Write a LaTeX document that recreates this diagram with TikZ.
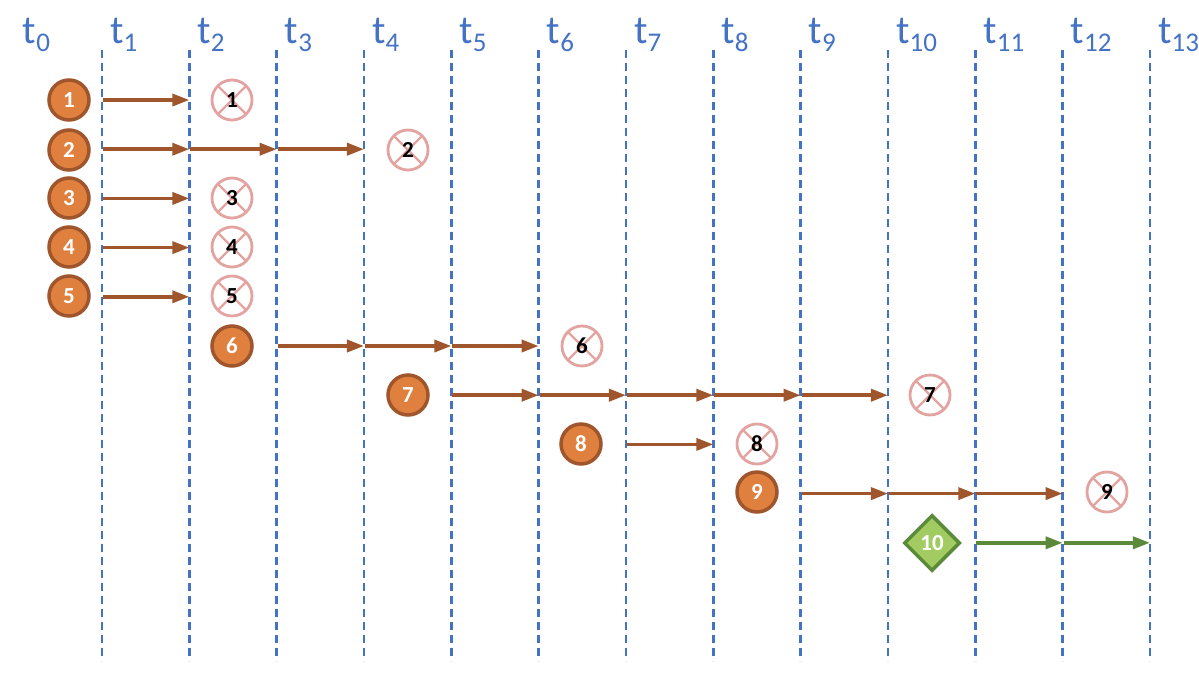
\documentclass[tikz,border=0pt]{standalone}
\usepackage{fontspec}
\setmainfont{Carlito}
\usetikzlibrary{arrows.meta,shapes.geometric}
\definecolor{tblue}{HTML}{4472C4}
\definecolor{ofill}{HTML}{E0803E}
\definecolor{oline}{HTML}{A0562C}
\definecolor{pinkx}{HTML}{E3A3A0}
\definecolor{gfill}{HTML}{A2CB62}
\definecolor{gline}{HTML}{5A8A3A}
\newcommand\tsubx[1]{\raisebox{-8.5pt}{\fontsize{27}{27}\selectfont #1}}
\begin{document}
\begin{tikzpicture}[x=1pt,y=-1pt,
  tline/.style={draw=tblue,line width=2.5pt,dash pattern=on 8pt off 5pt},
  tlabel/.style={text=tblue,font=\fontsize{40}{40}\selectfont,inner sep=0pt},
  alive/.style={circle,draw=oline,fill=ofill,line width=3.5pt,minimum size=40pt,inner sep=0pt,text=white,font=\fontsize{23}{23}\selectfont\bfseries},
  dead/.style={circle,draw=pinkx,line width=2.8pt,minimum size=40pt,inner sep=0pt,font=\fontsize{23}{23}\selectfont\bfseries,
    path picture={\draw[pinkx,line width=2.2pt] (path picture bounding box.north west) -- (path picture bounding box.south east) (path picture bounding box.north east) -- (path picture bounding box.south west);}},
  newd/.style={diamond,draw=gline,fill=gfill,line width=3.5pt,minimum size=56pt,inner sep=0pt,text=white,font=\fontsize{23}{23}\selectfont\bfseries},
  parr/.style={draw=oline,line width=3.5pt,-{Triangle[length=17pt,width=12pt]},shorten <=1pt},
  garr/.style={draw=gline,line width=3.5pt,-{Triangle[length=17pt,width=12pt]},shorten <=1pt}]
\useasboundingbox (0,0) rectangle (1199,675);
% time lines and labels
\foreach \i in {0,...,13}{
  \pgfmathsetmacro\xx{102+(\i-1)*87.33}
  \foreach \r in {1,...,10}{
    \pgfmathsetmacro\yy{100+(\r-1)*49.2}
    \coordinate (c-\r-\i) at (\xx,\yy);
  }
  \node[tlabel,anchor=base west] (l\i) at (\xx+8,43) {t\tsubx{\i}};
}
\foreach \i in {1,...,13}{
  \pgfmathsetmacro\xx{102+(\i-1)*87.33}
  \coordinate (top-\i) at (\xx,50);
  \coordinate (bot-\i) at (\xx,661);
  \draw[tline] (top-\i) -- (bot-\i);
}
% alive nodes
\node[alive] (a1) at (69,100) {1};
\node[alive] (a2) at (69,150) {2};
\node[alive] (a3) at (69,198) {3};
\node[alive] (a4) at (69,247) {4};
\node[alive] (a5) at (69,296) {5};
\node[alive] (a6) at (232,346) {6};
\node[alive] (a7) at (408,395) {7};
\node[alive] (a8) at (581,444) {8};
\node[alive] (a9) at (757,492) {9};
\node[newd] (a10) at (932,543) {10};
% dead nodes
\node[dead] (d1) at (232,100) {1};
\node[dead] (d2) at (408,150) {2};
\node[dead] (d3) at (232,198) {3};
\node[dead] (d4) at (232,247) {4};
\node[dead] (d5) at (232,296) {5};
\node[dead] (d6) at (582,346) {6};
\node[dead] (d7) at (930,395) {7};
\node[dead] (d8) at (757,444) {8};
\node[dead] (d9) at (1107,492) {9};
% arrows
\draw[parr] (c-1-1) -- (c-1-2);
\foreach \a/\b in {1/2,2/3,3/4} \draw[parr] (c-2-\a) -- (c-2-\b);
\draw[parr] (c-3-1) -- (c-3-2);
\draw[parr] (c-4-1) -- (c-4-2);
\draw[parr] (c-5-1) -- (c-5-2);
\foreach \a/\b in {3/4,4/5,5/6} \draw[parr] (c-6-\a) -- (c-6-\b);
\foreach \a/\b in {5/6,6/7,7/8,8/9,9/10} \draw[parr] (c-7-\a) -- (c-7-\b);
\draw[parr] (c-8-7) -- (c-8-8);
\foreach \a/\b in {9/10,10/11,11/12} \draw[parr] (c-9-\a) -- (c-9-\b);
\foreach \a/\b in {11/12,12/13} \draw[garr] (c-10-\a) -- (c-10-\b);
\end{tikzpicture}
\end{document}
